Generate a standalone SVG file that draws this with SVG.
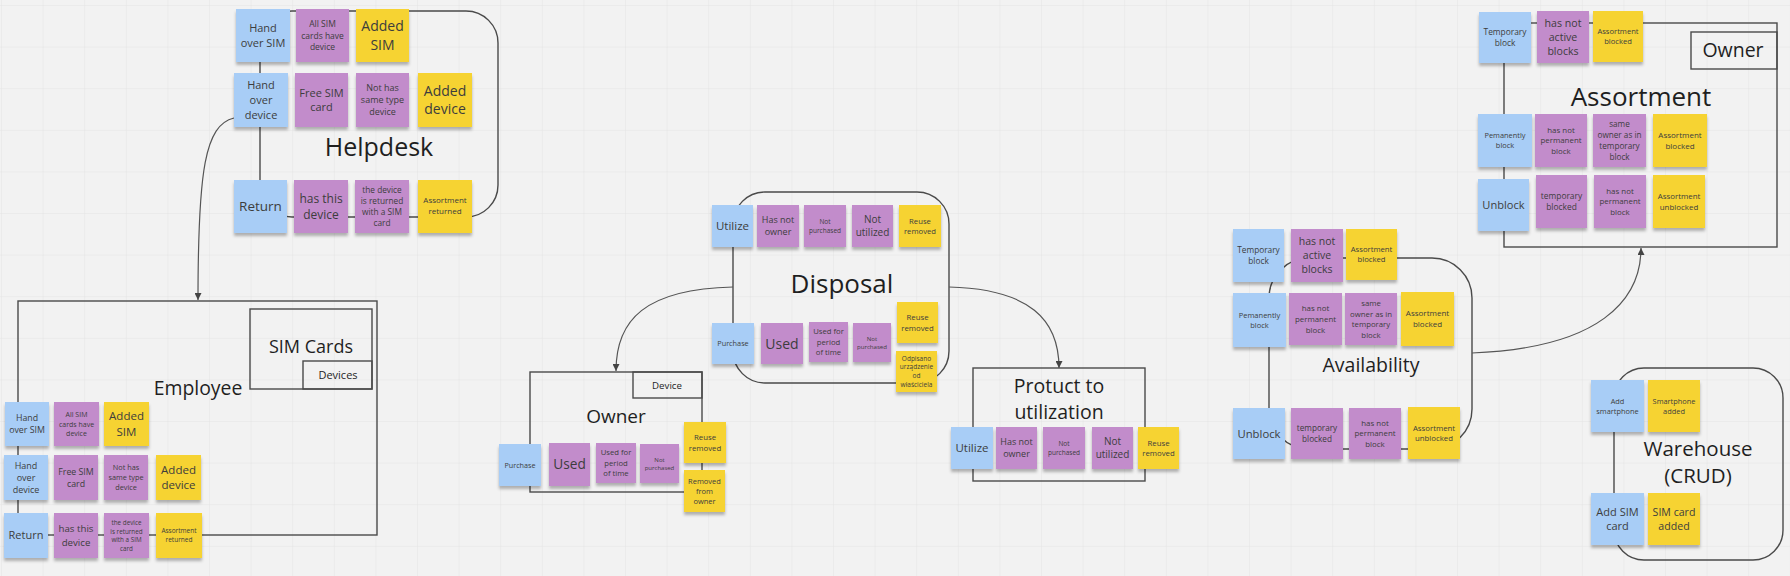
<svg xmlns="http://www.w3.org/2000/svg" width="1790" height="576" viewBox="0 0 1790 576">
<defs>
<pattern id="grid" x="1" y="5" width="41.6" height="41.6" patternUnits="userSpaceOnUse">
<path d="M0,0 H41.6 M0,0 V41.6" fill="none" stroke="#e4e4e4" stroke-width="1"/>
</pattern>
<filter id="sh" x="-10%" y="-10%" width="120%" height="140%">
<feDropShadow dx="0" dy="3" stdDeviation="1.8" flood-color="#000" flood-opacity="0.28"/>
</filter>
<marker id="arr" markerWidth="7" markerHeight="7" refX="7" refY="3.5" orient="auto" markerUnits="userSpaceOnUse">
<path d="M0,0 L7,3.5 L0,7 z" fill="#444"/>
</marker>
<style>
text{font-family:"Open Sans","Liberation Sans",sans-serif;text-anchor:middle}
.s text{fill:#3d3d3d}
.s rect{filter:url(#sh)}
.b{fill:#a8cdf6}
.p{fill:#c28ccb}
.y{fill:#f6d332}
.fr{fill:none;stroke:#4a4a4a;stroke-width:1.4}
.lb{fill:#1f1f1f}
.cn{fill:none;stroke:#555;stroke-width:1.2}
</style>
</defs>
<rect x="0" y="0" width="1790" height="576" fill="#f2f2f2"/>
<rect x="0" y="0" width="1790" height="576" fill="url(#grid)"/>

<!-- frames -->
<g id="helpdesk"><rect class="fr" x="260" y="11" width="238" height="206" rx="32"/><text class="lb" x="379" y="156" font-size="25">Helpdesk</text></g>
<g id="employee"><rect class="fr" x="18" y="301" width="359" height="234"/><text class="lb" x="198" y="395" font-size="19.4">Employee</text></g>
<g id="simcards"><rect class="fr" x="250" y="309" width="122" height="80"/><text class="lb" x="311" y="353" font-size="18">SIM Cards</text></g>
<g id="devices"><rect class="fr" x="303" y="361" width="69" height="28"/><text class="lb" x="338" y="379" font-size="11">Devices</text></g>
<g id="disposal"><rect class="fr" x="733" y="192" width="216" height="191" rx="32"/><text class="lb" x="842" y="293" font-size="26">Disposal</text></g>
<g id="owner"><rect class="fr" x="530" y="372" width="172" height="120"/><text class="lb" x="616" y="423" font-size="19">Owner</text></g>
<g id="device"><rect class="fr" x="633" y="372" width="69" height="26"/><text class="lb" x="667" y="389" font-size="9.7">Device</text></g>
<g id="product"><rect class="fr" x="973" y="368" width="172" height="113"/><text class="lb" x="1059" y="393" font-size="19.5">Protuct to</text><text class="lb" x="1059" y="419" font-size="19.5">utilization</text></g>
<g id="availability"><rect class="fr" x="1269" y="258" width="203" height="191" rx="40"/><text class="lb" x="1371" y="372" font-size="19.5">Availability</text></g>
<g id="assortment"><rect class="fr" x="1504" y="23" width="273" height="224"/><text class="lb" x="1641" y="106" font-size="26">Assortment</text></g>
<g id="assortment-owner"><rect class="fr" x="1691" y="32" width="86" height="37"/><text class="lb" x="1733" y="57" font-size="19.5">Owner</text></g>
<g id="warehouse"><rect class="fr" x="1614" y="368" width="169" height="192" rx="30"/><text class="lb" x="1698" y="456" font-size="20.5">Warehouse</text><text class="lb" x="1698" y="483" font-size="20.5">(CRUD)</text></g>

<!-- connectors -->
<g id="connectors">
<path class="cn" d="M234,118 C205,125 198,170 198,300" marker-end="url(#arr)"/>
<path class="cn" d="M733,287 C645,289 616,320 616,371" marker-end="url(#arr)"/>
<path class="cn" d="M949,287 C1030,289 1059,320 1059,368" marker-end="url(#arr)"/>
<path class="cn" d="M1472,353 C1600,348 1641,300 1641,248" marker-end="url(#arr)"/>
</g>

<!-- Helpdesk stickies -->
<g id="h1" class="s"><rect class="b" x="236" y="9" width="54" height="53"/><text x="263" y="35.5" font-size="11"><tspan x="263" dy="-0.315em">Hand</tspan><tspan x="263" dy="1.35em">over SIM</tspan></text></g>
<g id="h2" class="s"><rect class="p" x="296" y="9" width="53" height="53"/><text x="322.5" y="35.5" font-size="8.5"><tspan x="322.5" dy="-0.99em">All SIM</tspan><tspan x="322.5" dy="1.35em">cards have</tspan><tspan x="322.5" dy="1.35em">device</tspan></text></g>
<g id="h3" class="s"><rect class="y" x="356" y="9" width="53" height="53"/><text x="382.5" y="35.5" font-size="14"><tspan x="382.5" dy="-0.315em">Added</tspan><tspan x="382.5" dy="1.35em">SIM</tspan></text></g>
<g id="h4" class="s"><rect class="b" x="234" y="73" width="54" height="54"/><text x="261" y="100" font-size="11"><tspan x="261" dy="-0.99em">Hand</tspan><tspan x="261" dy="1.35em">over</tspan><tspan x="261" dy="1.35em">device</tspan></text></g>
<g id="h5" class="s"><rect class="p" x="295" y="73" width="53" height="54"/><text x="321.5" y="100" font-size="11"><tspan x="321.5" dy="-0.315em">Free SIM</tspan><tspan x="321.5" dy="1.35em">card</tspan></text></g>
<g id="h6" class="s"><rect class="p" x="356" y="73" width="53" height="54"/><text x="382.5" y="100" font-size="9"><tspan x="382.5" dy="-0.99em">Not has</tspan><tspan x="382.5" dy="1.35em">same type</tspan><tspan x="382.5" dy="1.35em">device</tspan></text></g>
<g id="h7" class="s"><rect class="y" x="418" y="73" width="54" height="54"/><text x="445" y="100" font-size="14"><tspan x="445" dy="-0.315em">Added</tspan><tspan x="445" dy="1.35em">device</tspan></text></g>
<g id="h8" class="s"><rect class="b" x="234" y="180" width="53" height="53"/><text x="260.5" y="206.5" font-size="13.5"><tspan x="260.5" dy="0.36em">Return</tspan></text></g>
<g id="h9" class="s"><rect class="p" x="294" y="180" width="54" height="53"/><text x="321" y="206.5" font-size="12"><tspan x="321" dy="-0.315em">has this</tspan><tspan x="321" dy="1.35em">device</tspan></text></g>
<g id="h10" class="s"><rect class="p" x="355" y="180" width="54" height="53"/><text x="382" y="206.5" font-size="8.3"><tspan x="382" dy="-1.665em">the device</tspan><tspan x="382" dy="1.35em">is returned</tspan><tspan x="382" dy="1.35em">with a SIM</tspan><tspan x="382" dy="1.35em">card</tspan></text></g>
<g id="h11" class="s"><rect class="y" x="418" y="180" width="54" height="53"/><text x="445" y="205.5" font-size="8"><tspan x="445" dy="-0.315em">Assortment</tspan><tspan x="445" dy="1.35em">returned</tspan></text></g>

<!-- Employee stickies -->
<g id="e1" class="s"><rect class="b" x="5" y="402" width="44" height="44"/><text x="27" y="424" font-size="8.8"><tspan x="27" dy="-0.315em">Hand</tspan><tspan x="27" dy="1.35em">over SIM</tspan></text></g>
<g id="e2" class="s"><rect class="p" x="54" y="402" width="45" height="44"/><text x="76.5" y="424" font-size="7"><tspan x="76.5" dy="-0.99em">All SIM</tspan><tspan x="76.5" dy="1.35em">cards have</tspan><tspan x="76.5" dy="1.35em">device</tspan></text></g>
<g id="e3" class="s"><rect class="y" x="104" y="402" width="45" height="44"/><text x="126.5" y="424" font-size="11.5"><tspan x="126.5" dy="-0.315em">Added</tspan><tspan x="126.5" dy="1.35em">SIM</tspan></text></g>
<g id="e4" class="s"><rect class="b" x="4" y="455" width="44" height="45"/><text x="26" y="477.5" font-size="9"><tspan x="26" dy="-0.99em">Hand</tspan><tspan x="26" dy="1.35em">over</tspan><tspan x="26" dy="1.35em">device</tspan></text></g>
<g id="e5" class="s"><rect class="p" x="54" y="455" width="44" height="45"/><text x="76" y="477.5" font-size="8.8"><tspan x="76" dy="-0.315em">Free SIM</tspan><tspan x="76" dy="1.35em">card</tspan></text></g>
<g id="e6" class="s"><rect class="p" x="104" y="455" width="44" height="45"/><text x="126" y="477.5" font-size="7.3"><tspan x="126" dy="-0.99em">Not has</tspan><tspan x="126" dy="1.35em">same type</tspan><tspan x="126" dy="1.35em">device</tspan></text></g>
<g id="e7" class="s"><rect class="y" x="156" y="455" width="45" height="45"/><text x="178.5" y="477.5" font-size="11.5"><tspan x="178.5" dy="-0.315em">Added</tspan><tspan x="178.5" dy="1.35em">device</tspan></text></g>
<g id="e8" class="s"><rect class="b" x="4" y="513" width="44" height="45"/><text x="26" y="535.5" font-size="11"><tspan x="26" dy="0.36em">Return</tspan></text></g>
<g id="e9" class="s"><rect class="p" x="54" y="513" width="44" height="45"/><text x="76" y="535.5" font-size="9.7"><tspan x="76" dy="-0.315em">has this</tspan><tspan x="76" dy="1.35em">device</tspan></text></g>
<g id="e10" class="s"><rect class="p" x="104" y="513" width="45" height="45"/><text x="126.5" y="535.5" font-size="6.3"><tspan x="126.5" dy="-1.665em">the device</tspan><tspan x="126.5" dy="1.35em">is returned</tspan><tspan x="126.5" dy="1.35em">with a SIM</tspan><tspan x="126.5" dy="1.35em">card</tspan></text></g>
<g id="e11" class="s"><rect class="y" x="156" y="513" width="46" height="45"/><text x="179" y="535" font-size="6.5"><tspan x="179" dy="-0.315em">Assortment</tspan><tspan x="179" dy="1.35em">returned</tspan></text></g>

<!-- Disposal stickies -->
<g id="d1" class="s"><rect class="b" x="712" y="205" width="41" height="42"/><text x="732.5" y="226" font-size="11.5"><tspan x="732.5" dy="0.36em">Utilize</tspan></text></g>
<g id="d2" class="s"><rect class="p" x="757" y="205" width="42" height="42"/><text x="778" y="226" font-size="9"><tspan x="778" dy="-0.315em">Has not</tspan><tspan x="778" dy="1.35em">owner</tspan></text></g>
<g id="d3" class="s"><rect class="p" x="804" y="205" width="42" height="42"/><text x="825" y="226" font-size="6.5"><tspan x="825" dy="-0.315em">Not</tspan><tspan x="825" dy="1.35em">purchased</tspan></text></g>
<g id="d4" class="s"><rect class="p" x="852" y="205" width="41" height="42"/><text x="872.5" y="226" font-size="10"><tspan x="872.5" dy="-0.315em">Not</tspan><tspan x="872.5" dy="1.35em">utilized</tspan></text></g>
<g id="d5" class="s"><rect class="y" x="899" y="205" width="42" height="42"/><text x="920" y="226" font-size="7.7"><tspan x="920" dy="-0.315em">Reuse</tspan><tspan x="920" dy="1.35em">removed</tspan></text></g>
<g id="d6" class="s"><rect class="b" x="712" y="323" width="42" height="41"/><text x="733" y="343.5" font-size="7.3"><tspan x="733" dy="0.36em">Purchase</tspan></text></g>
<g id="d7" class="s"><rect class="p" x="761" y="323" width="42" height="41"/><text x="782" y="343.5" font-size="14"><tspan x="782" dy="0.36em">Used</tspan></text></g>
<g id="d8" class="s"><rect class="p" x="809" y="322" width="39" height="40"/><text x="828.5" y="342" font-size="7.7"><tspan x="828.5" dy="-0.99em">Used for</tspan><tspan x="828.5" dy="1.35em">period</tspan><tspan x="828.5" dy="1.35em">of time</tspan></text></g>
<g id="d9" class="s"><rect class="p" x="853" y="323" width="38" height="39"/><text x="872" y="342.5" font-size="6.1"><tspan x="872" dy="-0.315em">Not</tspan><tspan x="872" dy="1.35em">purchased</tspan></text></g>
<g id="d10" class="s"><rect class="y" x="897" y="302" width="41" height="41"/><text x="917.5" y="322.5" font-size="7.8"><tspan x="917.5" dy="-0.315em">Reuse</tspan><tspan x="917.5" dy="1.35em">removed</tspan></text></g>
<g id="d11" class="s"><rect class="y" x="896" y="351" width="41" height="41"/><text x="916.5" y="371.5" font-size="6.5"><tspan x="916.5" dy="-1.665em">Odpisano</tspan><tspan x="916.5" dy="1.35em">urządzenie</tspan><tspan x="916.5" dy="1.35em">od</tspan><tspan x="916.5" dy="1.35em">właściciela</tspan></text></g>

<!-- Owner stickies -->
<g id="o1" class="s"><rect class="b" x="499" y="444" width="42" height="42"/><text x="520" y="465" font-size="7.2"><tspan x="520" dy="0.36em">Purchase</tspan></text></g>
<g id="o2" class="s"><rect class="p" x="549" y="443" width="41" height="43"/><text x="569.5" y="464.5" font-size="13.7"><tspan x="569.5" dy="0.36em">Used</tspan></text></g>
<g id="o3" class="s"><rect class="p" x="596" y="443" width="40" height="40"/><text x="616" y="463" font-size="7.7"><tspan x="616" dy="-0.99em">Used for</tspan><tspan x="616" dy="1.35em">period</tspan><tspan x="616" dy="1.35em">of time</tspan></text></g>
<g id="o4" class="s"><rect class="p" x="640" y="444" width="39" height="39"/><text x="659.5" y="463.5" font-size="6"><tspan x="659.5" dy="-0.315em">Not</tspan><tspan x="659.5" dy="1.35em">purchased</tspan></text></g>
<g id="o5" class="s"><rect class="y" x="684" y="422" width="42" height="41"/><text x="705" y="442.5" font-size="7.8"><tspan x="705" dy="-0.315em">Reuse</tspan><tspan x="705" dy="1.35em">removed</tspan></text></g>
<g id="o6" class="s"><rect class="y" x="684" y="470" width="41" height="42"/><text x="704.5" y="491" font-size="7.5"><tspan x="704.5" dy="-0.99em">Removed</tspan><tspan x="704.5" dy="1.35em">from</tspan><tspan x="704.5" dy="1.35em">owner</tspan></text></g>

<!-- Product stickies -->
<g id="p1" class="s"><rect class="b" x="951" y="427" width="42" height="42"/><text x="972" y="448" font-size="11.5"><tspan x="972" dy="0.36em">Utilize</tspan></text></g>
<g id="p2" class="s"><rect class="p" x="996" y="427" width="41" height="42"/><text x="1016.5" y="448" font-size="9"><tspan x="1016.5" dy="-0.315em">Has not</tspan><tspan x="1016.5" dy="1.35em">owner</tspan></text></g>
<g id="p3" class="s"><rect class="p" x="1043" y="427" width="42" height="42"/><text x="1064" y="448" font-size="6.5"><tspan x="1064" dy="-0.315em">Not</tspan><tspan x="1064" dy="1.35em">purchased</tspan></text></g>
<g id="p4" class="s"><rect class="p" x="1092" y="427" width="41" height="42"/><text x="1112.5" y="448" font-size="10"><tspan x="1112.5" dy="-0.315em">Not</tspan><tspan x="1112.5" dy="1.35em">utilized</tspan></text></g>
<g id="p5" class="s"><rect class="y" x="1138" y="427" width="41" height="42"/><text x="1158.5" y="448" font-size="7.8"><tspan x="1158.5" dy="-0.315em">Reuse</tspan><tspan x="1158.5" dy="1.35em">removed</tspan></text></g>

<!-- Availability stickies -->
<g id="a1" class="s"><rect class="b" x="1233" y="229" width="51" height="53"/><text x="1258.5" y="255.5" font-size="8.3"><tspan x="1258.5" dy="-0.315em">Temporary</tspan><tspan x="1258.5" dy="1.35em">block</tspan></text></g>
<g id="a2" class="s"><rect class="p" x="1291" y="229" width="52" height="53"/><text x="1317" y="255.5" font-size="10.5"><tspan x="1317" dy="-0.99em">has not</tspan><tspan x="1317" dy="1.35em">active</tspan><tspan x="1317" dy="1.35em">blocks</tspan></text></g>
<g id="a3" class="s"><rect class="y" x="1346" y="229" width="51" height="51"/><text x="1371.5" y="254.5" font-size="7.7"><tspan x="1371.5" dy="-0.315em">Assortment</tspan><tspan x="1371.5" dy="1.35em">blocked</tspan></text></g>
<g id="a4" class="s"><rect class="b" x="1233" y="293" width="53" height="54"/><text x="1259.5" y="320" font-size="7.5"><tspan x="1259.5" dy="-0.315em">Pemanently</tspan><tspan x="1259.5" dy="1.35em">block</tspan></text></g>
<g id="a5" class="s"><rect class="p" x="1289" y="293" width="53" height="52"/><text x="1315.5" y="319" font-size="7.9"><tspan x="1315.5" dy="-0.99em">has not</tspan><tspan x="1315.5" dy="1.35em">permanent</tspan><tspan x="1315.5" dy="1.35em">block</tspan></text></g>
<g id="a6" class="s"><rect class="p" x="1345" y="293" width="52" height="52"/><text x="1371" y="319" font-size="7.8"><tspan x="1371" dy="-1.665em">same</tspan><tspan x="1371" dy="1.35em">owner as in</tspan><tspan x="1371" dy="1.35em">temporary</tspan><tspan x="1371" dy="1.35em">block</tspan></text></g>
<g id="a7" class="s"><rect class="y" x="1401" y="292" width="53" height="54"/><text x="1427.5" y="319" font-size="8"><tspan x="1427.5" dy="-0.315em">Assortment</tspan><tspan x="1427.5" dy="1.35em">blocked</tspan></text></g>
<g id="a8" class="s"><rect class="b" x="1233" y="408" width="52" height="51"/><text x="1259" y="433.5" font-size="11.3"><tspan x="1259" dy="0.36em">Unblock</tspan></text></g>
<g id="a9" class="s"><rect class="p" x="1291" y="408" width="52" height="51"/><text x="1317" y="433.5" font-size="8.2"><tspan x="1317" dy="-0.315em">temporary</tspan><tspan x="1317" dy="1.35em">blocked</tspan></text></g>
<g id="a10" class="s"><rect class="p" x="1349" y="408" width="52" height="51"/><text x="1375" y="433.5" font-size="7.9"><tspan x="1375" dy="-0.99em">has not</tspan><tspan x="1375" dy="1.35em">permanent</tspan><tspan x="1375" dy="1.35em">block</tspan></text></g>
<g id="a11" class="s"><rect class="y" x="1408" y="407" width="52" height="52"/><text x="1434" y="433" font-size="7.8"><tspan x="1434" dy="-0.315em">Assortment</tspan><tspan x="1434" dy="1.35em">unblocked</tspan></text></g>

<!-- Assortment stickies -->
<g id="s1" class="s"><rect class="b" x="1479" y="12" width="52" height="51"/><text x="1505" y="37.5" font-size="8.4"><tspan x="1505" dy="-0.315em">Temporary</tspan><tspan x="1505" dy="1.35em">block</tspan></text></g>
<g id="s2" class="s"><rect class="p" x="1537" y="11" width="52" height="52"/><text x="1563" y="37" font-size="10.6"><tspan x="1563" dy="-0.99em">has not</tspan><tspan x="1563" dy="1.35em">active</tspan><tspan x="1563" dy="1.35em">blocks</tspan></text></g>
<g id="s3" class="s"><rect class="y" x="1593" y="11" width="50" height="51"/><text x="1618" y="36.5" font-size="7.6"><tspan x="1618" dy="-0.315em">Assortment</tspan><tspan x="1618" dy="1.35em">blocked</tspan></text></g>
<g id="s4" class="s"><rect class="b" x="1478" y="114" width="54" height="53"/><text x="1505" y="140.5" font-size="7.4"><tspan x="1505" dy="-0.315em">Pemanently</tspan><tspan x="1505" dy="1.35em">block</tspan></text></g>
<g id="s5" class="s"><rect class="p" x="1535" y="114" width="52" height="53"/><text x="1561" y="140.5" font-size="7.9"><tspan x="1561" dy="-0.99em">has not</tspan><tspan x="1561" dy="1.35em">permanent</tspan><tspan x="1561" dy="1.35em">block</tspan></text></g>
<g id="s6" class="s"><rect class="p" x="1593" y="114" width="53" height="53"/><text x="1619.5" y="140.5" font-size="8.2"><tspan x="1619.5" dy="-1.665em">same</tspan><tspan x="1619.5" dy="1.35em">owner as in</tspan><tspan x="1619.5" dy="1.35em">temporary</tspan><tspan x="1619.5" dy="1.35em">block</tspan></text></g>
<g id="s7" class="s"><rect class="y" x="1653" y="114" width="54" height="53"/><text x="1680" y="140.5" font-size="8"><tspan x="1680" dy="-0.315em">Assortment</tspan><tspan x="1680" dy="1.35em">blocked</tspan></text></g>
<g id="s8" class="s"><rect class="b" x="1478" y="179" width="51" height="52"/><text x="1503.5" y="205" font-size="11.1"><tspan x="1503.5" dy="0.36em">Unblock</tspan></text></g>
<g id="s9" class="s"><rect class="p" x="1536" y="175" width="51" height="53"/><text x="1561.5" y="201.5" font-size="8.4"><tspan x="1561.5" dy="-0.315em">temporary</tspan><tspan x="1561.5" dy="1.35em">blocked</tspan></text></g>
<g id="s10" class="s"><rect class="p" x="1594" y="175" width="52" height="53"/><text x="1620" y="201.5" font-size="7.9"><tspan x="1620" dy="-0.99em">has not</tspan><tspan x="1620" dy="1.35em">permanent</tspan><tspan x="1620" dy="1.35em">block</tspan></text></g>
<g id="s11" class="s"><rect class="y" x="1653" y="175" width="52" height="53"/><text x="1679" y="201.5" font-size="7.9"><tspan x="1679" dy="-0.315em">Assortment</tspan><tspan x="1679" dy="1.35em">unblocked</tspan></text></g>

<!-- Warehouse stickies -->
<g id="w1" class="s"><rect class="b" x="1591" y="380" width="53" height="52"/><text x="1617.5" y="406" font-size="7.4"><tspan x="1617.5" dy="-0.315em">Add</tspan><tspan x="1617.5" dy="1.35em">smartphone</tspan></text></g>
<g id="w2" class="s"><rect class="y" x="1648" y="380" width="52" height="52"/><text x="1674" y="406" font-size="7.4"><tspan x="1674" dy="-0.315em">Smartphone</tspan><tspan x="1674" dy="1.35em">added</tspan></text></g>
<g id="w3" class="s"><rect class="b" x="1591" y="493" width="53" height="52"/><text x="1617.5" y="519" font-size="11"><tspan x="1617.5" dy="-0.315em">Add SIM</tspan><tspan x="1617.5" dy="1.35em">card</tspan></text></g>
<g id="w4" class="s"><rect class="y" x="1648" y="493" width="52" height="52"/><text x="1674" y="519" font-size="10.6"><tspan x="1674" dy="-0.315em">SIM card</tspan><tspan x="1674" dy="1.35em">added</tspan></text></g>
</svg>
